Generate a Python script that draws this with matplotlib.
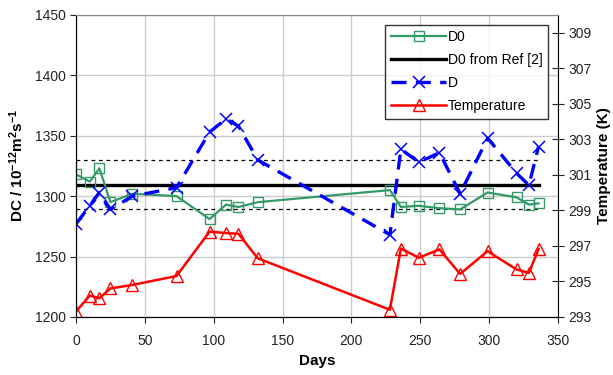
import matplotlib
matplotlib.use("Agg")
import matplotlib.pyplot as plt

plt.rcParams['font.family'] = ['Liberation Sans', 'DejaVu Sans']
plt.rcParams['mathtext.fontset'] = 'custom'
plt.rcParams['mathtext.rm'] = 'Liberation Sans'
plt.rcParams['mathtext.bf'] = 'Liberation Sans:bold'
plt.rcParams['mathtext.default'] = 'bf'

days = [0, 10, 17, 25, 41, 73, 97, 109, 118, 132, 228, 236, 249, 264, 279, 299, 320, 329, 336]
d0 = [1318, 1312, 1323, 1295, 1302, 1300, 1281, 1293, 1291, 1295, 1305, 1291, 1292, 1290, 1289, 1303, 1299, 1293, 1294]
d = [1277, 1292, 1303, 1289, 1300, 1307, 1353, 1364, 1358, 1330, 1268, 1339, 1328, 1336, 1302, 1348, 1319, 1309, 1341]
temp = [293.3, 294.2, 294.05, 294.6, 294.8, 295.3, 297.8, 297.72, 297.68, 296.3, 293.4, 296.85, 296.33, 296.8, 295.42, 296.7, 295.67, 295.48, 296.82]
ref_days = [0, 336]
ref_d0 = 1309
ref_upper = 1330
ref_lower = 1289

green = '#339966'

fig = plt.figure(figsize=(6.13, 3.75), dpi=100)
ax = fig.add_axes([0.124, 0.155, 0.786, 0.805])
ax2 = ax.twinx()

ax.set_xlim(0, 350)
ax.set_ylim(1200, 1450)
ax2.set_ylim(293, 310)

ax.set_xticks(range(0, 351, 50))
ax.set_yticks(range(1200, 1451, 50))
ax2.set_yticks(range(293, 310, 2))
ax.grid(True, color='#cccccc', linewidth=1)
ax.set_axisbelow(True)

l1, = ax.plot(days, d0, color=green, lw=1.6, marker='s', ms=7, mfc='none', mec=green, mew=1, label='D0', zorder=4)
l2, = ax.plot(ref_days, [ref_d0, ref_d0], color='black', lw=2.4, label='D0 from Ref [2]', zorder=3)
ax.plot(ref_days, [ref_upper, ref_upper], color='black', lw=0.9, ls=(0, (3, 3)), zorder=3)
ax.plot(ref_days, [ref_lower, ref_lower], color='black', lw=0.9, ls=(0, (3, 3)), zorder=3)
l3, = ax.plot(days, d, color='#0000ff', lw=2.4, dashes=(4.5, 2.8), marker='x', ms=9, mew=1.1, label='D', zorder=5)
l4, = ax2.plot(days, temp, color='#ff0000', lw=1.8, marker='^', ms=8, mfc='none', mec='#ff0000', mew=1, label='Temperature')

for a in (ax, ax2):
    a.tick_params(labelsize=10, colors='#222222', length=4)
ax.tick_params(axis='x', pad=8)
ax.tick_params(axis='y', direction='out')
ax2.tick_params(axis='y', direction='inout', length=8)
ax.spines['top'].set_color('#888888')
ax2.spines['top'].set_color('#888888')
ax.spines['right'].set_visible(False)

ax.set_xlabel('Days', fontsize=11, fontweight='bold', labelpad=5)
ax.set_ylabel(r'DC / 10$^{-12}$m$^{2}$s$^{-1}$', fontsize=11, fontweight='bold', labelpad=6)
ax2.set_ylabel('Temperature (K)', fontsize=11, fontweight='bold', labelpad=4)

leg = ax2.legend(handles=[l1, l2, l3, l4], loc='upper right', bbox_to_anchor=(0.98, 0.968),
                 fontsize=10, frameon=True, fancybox=False, handlelength=4.0,
                 borderpad=0.4, labelspacing=0.65, handletextpad=0.1, borderaxespad=0)
leg.get_frame().set_edgecolor('black')
leg.get_frame().set_linewidth(1)

fig.savefig('out.png', dpi=100)
